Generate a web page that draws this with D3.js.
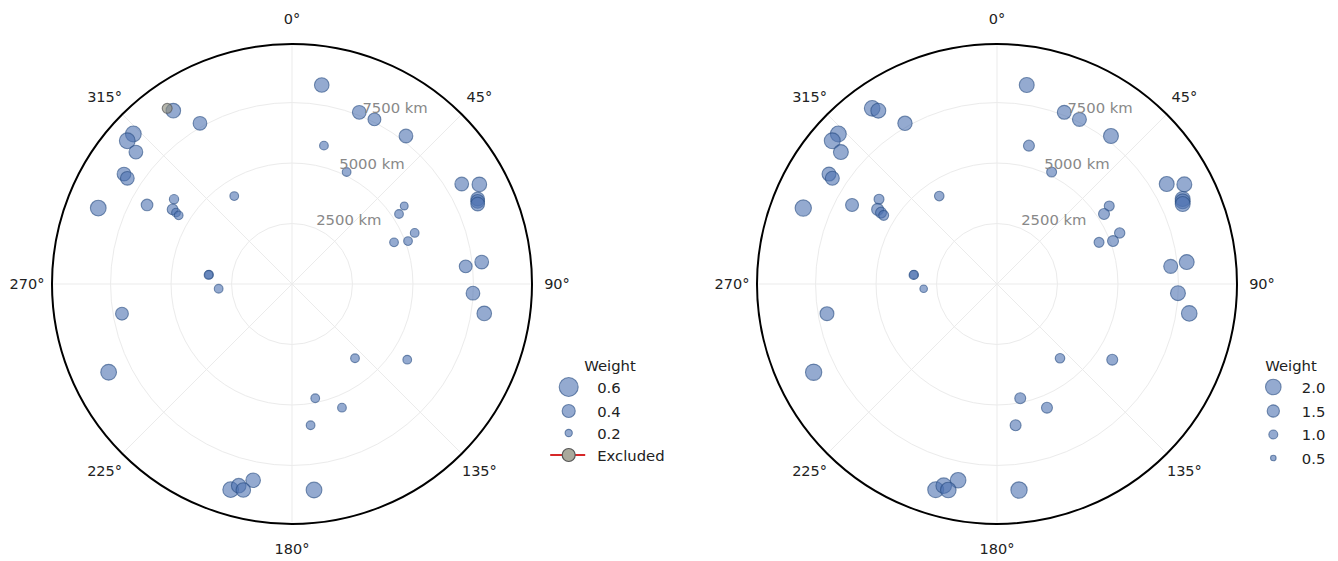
<!DOCTYPE html>
<html><head><meta charset="utf-8">
<script src="https://cdn.jsdelivr.net/npm/d3@7"></script>
<style>
body{margin:0;background:#fff;}
svg{display:block;}
text{font-family:"DejaVu Sans","Liberation Sans",sans-serif;}
</style>
</head><body>
<svg id="chart" width="1338" height="561"></svg>
<script>
// ---- data ----
const azimuthDeg = [324.6,325.6,330.2,313.4,311.0,310.2,303.2,302.7,291.4,298.6,305.7,302.0,301.6,301.2,326.7,276.4,276.2,266.3,
  8.5,21.4,26.6,37.6,13.0,26.0,59.5,62.0,65.4,66.0,66.7,55.2,56.8,67.4,69.7,67.8,83.4,84.2,92.9,98.7,
  260.1,244.3,139.7,123.3,168.5,158.0,172.5,191.2,196.6,194.8,193.3,173.9];
const distanceKm = [8907,8683,7654,9026,9022,8448,8299,8088,8601,6824,6005,5819,5629,5476,4348,3451,3470,3038,
  8316,7621,7609,7720,5869,5150,8142,8770,8440,8400,8357,5650,5286,5493,5113,4555,7894,7216,7489,8039,
  7134,8411,4026,5699,4819,5513,5890,8270,8870,8622,8750,8564];
const excludedFlag = [true,false,false,false,false,false,false,false,false,false,false,false,false,false,false,false,false,false,
  false,false,false,false,false,false,false,false,false,false,false,false,false,false,false,false,false,false,false,false,
  false,false,false,false,false,false,false,false,false,false,false,false];
const weightLeft = [0.29,0.45,0.42,0.49,0.49,0.42,0.42,0.42,0.49,0.35,0.27,0.32,0.25,0.25,0.25,0.25,0.25,0.25,
  0.45,0.42,0.39,0.42,0.25,0.25,0.42,0.45,0.42,0.42,0.42,0.22,0.25,0.25,0.25,0.25,0.42,0.39,0.42,0.45,
  0.39,0.49,0.25,0.25,0.25,0.25,0.25,0.45,0.49,0.45,0.45,0.49];
const weightRight = [2.0,1.9,1.81,2.05,2.05,1.9,1.75,1.75,2.11,1.6,1.15,1.45,1.3,1.15,1.09,1.0,1.0,0.79,
  1.9,1.75,1.75,1.9,1.3,1.15,1.9,1.9,1.9,1.9,1.9,1.15,1.3,1.21,1.3,1.15,1.9,1.75,1.9,2.0,
  1.75,2.11,1.09,1.3,1.3,1.3,1.3,2.0,2.05,2.0,2.0,2.11];

const angleTicks = [0,45,90,135,180,225,270,315];
const angleLabels = ["0°","45°","90°","135°","180°","225°","270°","315°"];
const radialTicks = [2500,5000,7500];
const radialLabels = ["2500 km","5000 km","7500 km"];
const legendLeftValues = [0.6,0.4,0.2];
const legendLeftLabels = ["0.6","0.4","0.2"];
const excludedLabel = "Excluded";
const legendRightValues = [2.0,1.5,1.0,0.5];
const legendRightLabels = ["2.0","1.5","1.0","0.5"];
const legendTitle = "Weight";

// ---- layout / style ----
const svg = d3.select("#chart");
const CY = 284, R = 240, R_MAX_KM = 9920;
const BLUE = "#4c72b0", BLUE_EDGE = "#274b80";
const points = azimuthDeg.map((a,i)=>({az:a, d:distanceKm[i], ex:excludedFlag[i], wl:weightLeft[i], wr:weightRight[i]}));

const rScale = d3.scaleLinear().domain([0, R_MAX_KM]).range([0, R]);
const toXY = (cx, deg, r) => {
  const t = deg*Math.PI/180;
  return [cx + r*Math.sin(t), CY - r*Math.cos(t)];
};

function drawPanel(cx, sizeScale, weightKey, showExcluded, legend) {
  const g = svg.append("g");
  // grid rings
  g.selectAll(".ring").data(radialTicks).join("circle")
    .attr("cx", cx).attr("cy", CY).attr("r", d=>rScale(d))
    .attr("fill","none").attr("stroke","#ebebeb").attr("stroke-width",1);
  // spokes
  g.selectAll(".spoke").data(angleTicks).join("line")
    .attr("x1", cx).attr("y1", CY)
    .attr("x2", d=>toXY(cx,d,R)[0]).attr("y2", d=>toXY(cx,d,R)[1])
    .attr("stroke","#ebebeb").attr("stroke-width",1);
  // outer frame
  g.append("circle").attr("cx",cx).attr("cy",CY).attr("r",R)
    .attr("fill","none").attr("stroke","#000").attr("stroke-width",2);
  // angle labels
  g.selectAll(".alab").data(angleTicks).join("text")
    .attr("x", d=>toXY(cx,d,R+25)[0]).attr("y", d=>toXY(cx,d,R+25)[1])
    .attr("text-anchor","middle").attr("dominant-baseline","central")
    .attr("font-size","14.5px").attr("fill","#222")
    .text((d,i)=>angleLabels[i]);
  // points
  const normal = points.filter(p=> !(showExcluded && p.ex));
  g.selectAll(".pt").data(normal).join("circle")
    .attr("cx", p=>toXY(cx,p.az,rScale(p.d))[0])
    .attr("cy", p=>toXY(cx,p.az,rScale(p.d))[1])
    .attr("r", p=>sizeScale(p[weightKey]))
    .attr("fill",BLUE).attr("fill-opacity",0.6)
    .attr("stroke",BLUE_EDGE).attr("stroke-opacity",0.6).attr("stroke-width",1.1);
  if (showExcluded) {
    const ex = points.filter(p=>p.ex);
    g.selectAll(".ex").data(ex).join("circle")
      .attr("cx", p=>toXY(cx,p.az,rScale(p.d))[0])
      .attr("cy", p=>toXY(cx,p.az,rScale(p.d))[1])
      .attr("r", p=>sizeScale(p[weightKey]))
      .attr("fill","#8f8f80").attr("fill-opacity",0.65)
      .attr("stroke","#555").attr("stroke-opacity",0.7).attr("stroke-width",1.1);
  }
  // radial labels at 22.5°
  g.selectAll(".rlab").data(radialTicks).join("text")
    .attr("x", d=>toXY(cx,22.5,rScale(d))[0]+1)
    .attr("y", d=>toXY(cx,22.5,rScale(d))[1]-3)
    .attr("font-size","14.8px").attr("fill","#888")
    .text((d,i)=>radialLabels[i]);

  // legend
  const lg = svg.append("g");
  lg.append("text").attr("x",legend.titleX).attr("y",365)
    .attr("text-anchor","middle").attr("dominant-baseline","central")
    .attr("font-size","14.8px").attr("fill","#222").text(legendTitle);
  legend.values.forEach((v,i)=>{
    const y = legend.ys[i];
    lg.append("circle").attr("cx",legend.mx).attr("cy",y).attr("r",sizeScale(v))
      .attr("fill",BLUE).attr("fill-opacity",0.6)
      .attr("stroke",BLUE_EDGE).attr("stroke-opacity",0.6).attr("stroke-width",1.1);
    lg.append("text").attr("x",legend.mx+28.5).attr("y",y)
      .attr("dominant-baseline","central").attr("font-size","14.8px").attr("fill","#222")
      .text(legend.labels[i]);
  });
  if (legend.excludedY) {
    const y = legend.excludedY;
    lg.append("line").attr("x1",legend.mx-18.5).attr("x2",legend.mx+16.5).attr("y1",y).attr("y2",y)
      .attr("stroke","#d62728").attr("stroke-width",2);
    lg.append("circle").attr("cx",legend.mx).attr("cy",y).attr("r",6.5)
      .attr("fill","#a9a99c").attr("stroke","#555").attr("stroke-width",1.2);
    lg.append("text").attr("x",legend.mx+28.5).attr("y",y)
      .attr("dominant-baseline","central").attr("font-size","14.8px").attr("fill","#222")
      .text(excludedLabel);
  }
}

const sizeLeft = d3.scaleLinear().domain([0,0.6]).range([0.7,9.5]);
const sizeRight = d3.scaleLinear().domain([0,2.0]).range([1.16,7.8]);

drawPanel(292, sizeLeft, "wl", true, {
  titleX: 610, mx: 568.7, values: legendLeftValues, labels: legendLeftLabels,
  ys: [387, 411, 433], excludedY: 455
});
drawPanel(997, sizeRight, "wr", false, {
  titleX: 1291, mx: 1273.3, values: legendRightValues, labels: legendRightLabels,
  ys: [387, 411, 434.5, 458]
});
</script>
</body></html>
